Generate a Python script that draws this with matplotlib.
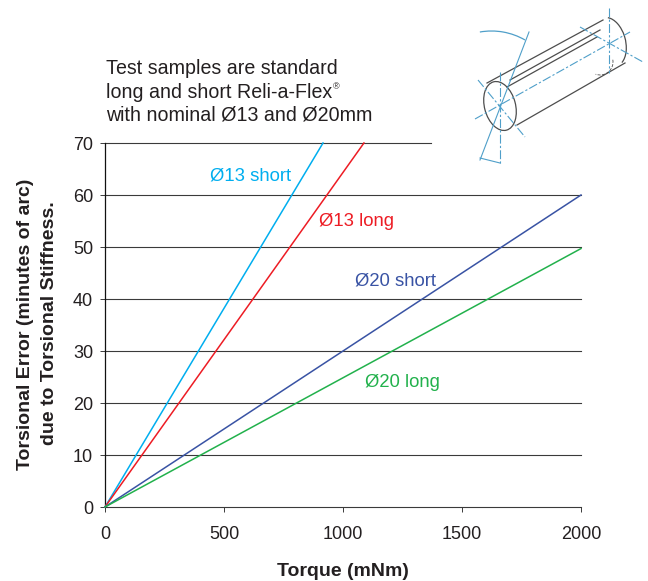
import matplotlib
matplotlib.use("Agg")
import matplotlib.pyplot as plt
from matplotlib.patches import Ellipse, Arc

plt.rcParams['font.family'] = ['Liberation Sans', 'DejaVu Sans']

# torque (mNm) vs torsional error (minutes of arc), all lines start at origin
series_names = ['Ø13 short', 'Ø13 long', 'Ø20 short', 'Ø20 long']
series_colors = ['#00aeef', '#ed1c24', '#3953a4', '#22b14c']
torque = [[0, 916], [0, 1088], [0, 2000], [0, 2000]]
error = [[0, 70], [0, 70], [0, 60], [0, 49.7]]
label_x = [441, 899, 1050, 1092]
label_y = [63.6, 55, 43.5, 24]

x_ticks = [0, 500, 1000, 1500, 2000]
y_ticks = [0, 10, 20, 30, 40, 50, 60, 70]
TEXT = '#231f20'

W, H = 648, 581
fig = plt.figure(figsize=(W / 100, H / 100), dpi=100)
ax = fig.add_axes([105 / W, 1 - 507 / H, 476 / W, 364 / H])

# gridlines, the top one stops short to leave room for the drawing
for y in y_ticks:
    ax.plot([0, 1370 if y == 70 else 2000], [y, y], color='#3a3a3a', lw=0.8, zorder=1, clip_on=False)

for t, e, c in zip(torque, error, series_colors):
    ax.plot(t, e, color=c, lw=1.1, zorder=3, clip_on=False)
for name, x, y, c in zip(series_names, label_x, label_y, series_colors):
    ax.text(x, y, name, color=c, fontsize=13.3, va='center', ha='left')

ax.set_xlim(0, 2000)
ax.set_ylim(0, 70)
ax.set_xticks(x_ticks)
ax.set_yticks(y_ticks)
ax.tick_params(axis='both', labelsize=13, labelcolor=TEXT, color='#3a3a3a', length=3.5, width=0.7)
ax.tick_params(axis='x', pad=10)
ax.tick_params(axis='y', pad=5)
for s in ['top', 'right', 'bottom']:
    ax.spines[s].set_visible(False)
ax.spines['left'].set_color('#111111')
ax.spines['left'].set_linewidth(0.9)

# overlay in pixel coordinates for the free text and the cylinder sketch
ov = fig.add_axes([0, 0, 1, 1])
ov.set_xlim(0, W)
ov.set_ylim(H, 0)
ov.axis('off')
ov.patch.set_alpha(0)

ov.text(106, 68.5, 'Test samples are standard', fontsize=14.1, color=TEXT, va='center')
ov.text(106, 92, 'long and short Reli-a-Flex', fontsize=14.1, color=TEXT, va='center')
ov.text(333, 87, '®', fontsize=6.5, color=TEXT, va='center')
ov.text(106, 115, 'with nominal Ø13 and Ø20mm', fontsize=14.1, color=TEXT, va='center')

ov.text(26, 324, 'Torsional Error (minutes of arc)', rotation=90, fontsize=14, fontweight='bold',
        color=TEXT, ha='center', va='center')
ov.text(50, 323, 'due to Torsional Stiffness.', rotation=90, fontsize=14, fontweight='bold',
        color=TEXT, ha='center', va='center')
ov.text(343, 571, 'Torque (mNm)', fontsize=14, fontweight='bold', color=TEXT, ha='center', va='center')

# sketch of the cylinder
GREY = '#4d4d4d'
BLUE = '#4f9fc9'
body_lines = [[(487, 83), (603, 20)], [(517, 125), (625, 63)], [(507, 87), (597, 37)], [(510, 80), (600, 30)]]
axis_lines = [[(475, 119), (630, 32)], [(500, 72), (500, 165)], [(478, 80), (525, 137)],
              [(609, 8), (609, 73)], [(580, 27), (643, 62)]]
for seg in body_lines:
    ov.plot(*zip(*seg), color=GREY, lw=0.9)
for seg in axis_lines:
    ov.plot(*zip(*seg), color=BLUE, lw=0.8, ls=(0, (8, 2, 2, 2)))
ov.plot([480, 529], [160, 32], color=BLUE, lw=0.8)
ov.add_patch(Ellipse((500, 106), 31, 50, angle=-15, fill=False, ec=GREY, lw=0.9))
ov.add_patch(Arc((610, 42), 31, 50, angle=-15, theta1=-80, theta2=75, ec=GREY, lw=0.9))
ov.add_patch(Arc((491.5, 98), 134, 134, theta1=-100, theta2=-60, ec=BLUE, lw=0.9))
ov.add_patch(Arc((600, 62), 26, 26, theta1=-10, theta2=110, ec=GREY, lw=0.6, ls='--'))
ov.plot([480, 500], [158, 163], color=BLUE, lw=0.8)

fig.savefig('out.png', dpi=100, facecolor='white')
